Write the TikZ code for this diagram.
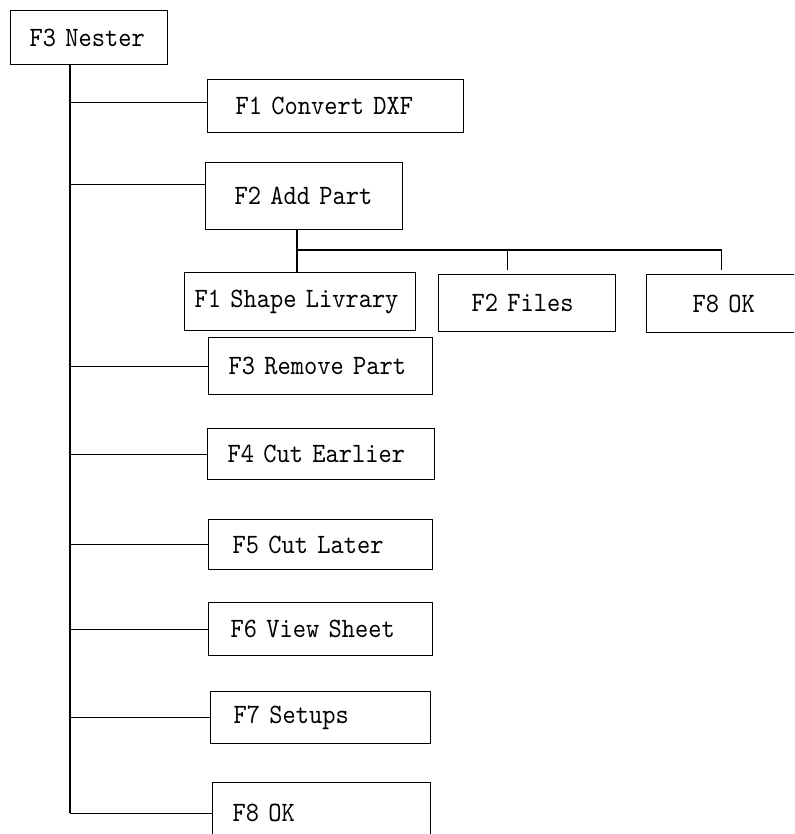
\documentclass[tikz,border=0pt]{standalone}
\usepackage{fontspec}
\newfontfamily\menufont{lmmono10-regular.otf}[FakeStretch=0.9]
\usetikzlibrary{positioning}

\begin{document}
\begin{tikzpicture}[
    x=1pt, y=-1pt,
    every node/.style={font=\menufont\fontsize{28}{32}\selectfont},
    menu/.style 2 args={rectangle, draw=black, line width=1.2pt, anchor=north west,
                        text width=#1, minimum height=#2, inner xsep=0pt,
                        inner ysep=0pt, align=left},
    indent/.style={execute at begin node=\hspace*{#1}},
    link/.style={line width=1.2pt},
]
\useasboundingbox (0,0) rectangle (794,834);
\clip (0,0) rectangle (794,834);

% -- Root -----------------------------------------------------
\node[menu={157pt}{54pt}, indent=19pt] (nester) at (10,10) {F3 Nester};

% -- Main column ----------------------------------------------
\node[menu={256pt}{53pt}, indent=28pt] (dxf)     at (207,79)  {F1 Convert DXF};
\node[menu={197pt}{67pt}, indent=29pt] (add)     at (205,162) {F2 Add Part};
\node[menu={224pt}{57pt}, indent=20pt] (remove)  at (208,337) {F3 Remove Part};
\node[menu={227pt}{51pt}, indent=20pt] (earlier) at (207,428) {F4 Cut Earlier};
\node[menu={224pt}{50pt}, indent=24pt] (later)   at (208,519) {F5 Cut Later};
\node[menu={224pt}{53pt}, indent=22pt] (view)    at (208,602) {F6 View Sheet};
\node[menu={220pt}{52pt}, indent=23pt] (setups)  at (210,691) {F7 Setups};
\node[menu={218pt}{61pt}, indent=20pt] (ok)      at (212,782) {F8 OK};

% -- Add Part sub-menu ----------------------------------------
\node[menu={231pt}{58pt}, indent=10pt] (shape) at (184,272) {F1 Shape Livrary};
\node[menu={177pt}{57pt}, indent=33pt] (files) at (438,274) {F2 Files};
\node[menu={150pt}{58pt}, indent=46pt] (okadd) at (646,274) {F8 OK};

% -- Spine and branches ---------------------------------------
\coordinate (spineX) at (70,0);
\draw[link] (spineX |- nester.south) -- (spineX |- ok.west);
\draw[link] (spineX |- dxf.west) ++(0,-3.5) -- ([yshift=3.5pt]dxf.west);
\draw[link] (spineX |- add.west) ++(0,-11.5) -- ([yshift=11.5pt]add.west);
\draw[link] (spineX |- remove.west)  -- (remove.west);
\draw[link] (spineX |- earlier.west) -- (earlier.west);
\draw[link] (spineX |- later.west)   -- (later.west);
\draw[link] (spineX |- view.west)    -- (view.west);
\draw[link] (spineX |- setups.west)  -- (setups.west);
\draw[link] (spineX |- ok.west)      -- (ok.west);

% -- Sub-menu bus ---------------------------------------------
\coordinate (dropX) at (297,0);
\coordinate (busY)  at (0,250);
\draw[link] (dropX |- add.south) -- (dropX |- shape.north);
\draw[link] (dropX |- busY) -- (busY -| okadd.north);
\draw[link, shorten >=4pt] ([xshift=-20pt]files.north |- busY) -- ([xshift=-20pt]files.north);
\draw[link, shorten >=4pt] (okadd.north |- busY) -- (okadd.north);

\end{tikzpicture}
\end{document}
